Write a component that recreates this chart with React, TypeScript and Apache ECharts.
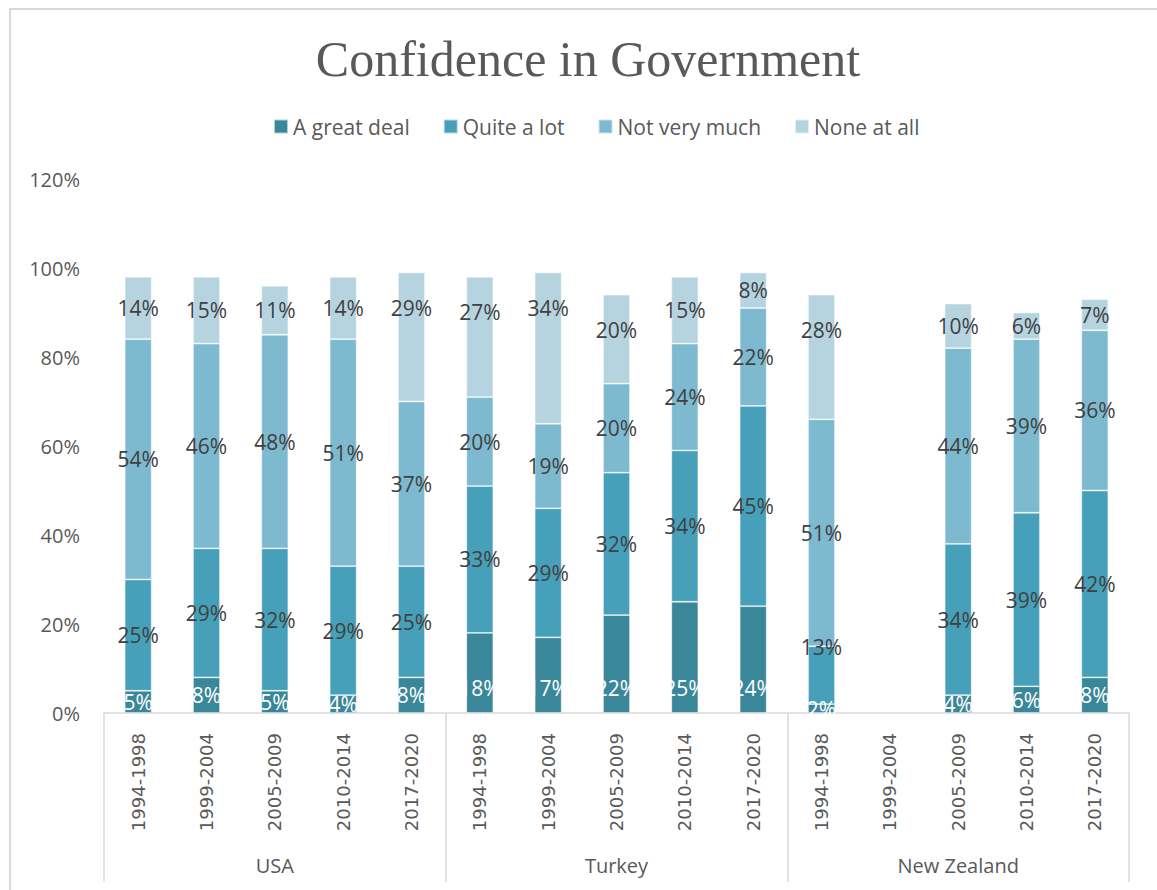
import React, { useEffect, useRef } from "react";
import * as echarts from "echarts";

const periods = ["1994-1998", "1999-2004", "2005-2009", "2010-2014", "2017-2020"];
const countries = ["USA", "Turkey", "New Zealand"];
const categories = countries.flatMap(() => periods);

const greatDeal = [5, 8, 5, 4, 8, 18, 17, 22, 25, 24, 2, null, 4, 6, 8];
const quiteALot = [25, 29, 32, 29, 25, 33, 29, 32, 34, 45, 13, null, 34, 39, 42];
const notVeryMuch = [54, 46, 48, 51, 37, 20, 19, 20, 24, 22, 51, null, 44, 39, 36];
const noneAtAll = [14, 15, 11, 14, 29, 27, 34, 20, 15, 8, 28, null, 10, 6, 7];

const seriesNames = ["A great deal", "Quite a lot", "Not very much", "None at all"];
const seriesData = [greatDeal, quiteALot, notVeryMuch, noneAtAll];
const colors = ["#3a8799", "#47a0b9", "#7db9cf", "#b5d4e0"];

const FONT = "'Open Sans', sans-serif";
const GRAY = "#595959";

// Label placement mimicking Excel's layout
function labelFor(seriesIdx: number, v: number | null) {
  if (v == null) return {};
  if (seriesIdx === 0) {
    return v >= 10 ? { position: "insideBottom", distance: 15 } : { position: "inside" };
  }
  if (seriesIdx === 1 && v < 15) {
    return { position: "top", distance: -11 };
  }
  if (seriesIdx === 3 && v > 15) {
    return { position: "insideTop", distance: 25 };
  }
  return { position: "inside" };
}

export default function App() {
  const ref = useRef<HTMLDivElement>(null);
  useEffect(() => {
    const chart = echarts.init(ref.current!, null, { renderer: "svg" });
    chart.setOption({
      animation: false,
      backgroundColor: "#ffffff",
      title: {
        text: "Confidence in Government",
        left: 583,
        textAlign: "center",
        top: 29,
        textStyle: { fontFamily: "'Liberation Serif', serif", fontSize: 50, fontWeight: "normal", color: GRAY },
      },
      legend: {
        data: seriesNames,
        top: 111,
        left: 268,
        itemWidth: 14,
        itemHeight: 14,
        itemGap: 33,
        icon: "rect",
        textStyle: { fontFamily: FONT, fontSize: 21, color: GRAY },
      },
      grid: { left: 104, right: 28, top: 179, bottom: 177, containLabel: false },
      xAxis: [
        {
          type: "category",
          data: categories,
          position: "bottom",
          axisLine: { show: true, lineStyle: { color: "#d9d9d9", width: 1.5 } },
          axisTick: { show: false },
          axisLabel: {
            rotate: 90,
            interval: 0,
            margin: 20,
            fontFamily: "'DejaVu Sans', sans-serif",
            fontSize: 18,
            color: GRAY,
          },
        },
        {
          type: "category",
          data: countries,
          position: "bottom",
          axisLine: { show: false },
          axisTick: { show: true, length: 169, lineStyle: { color: "#d9d9d9", width: 1.5 } },
          axisLabel: { margin: 142, fontFamily: FONT, fontSize: 20, color: GRAY },
        },
      ],
      yAxis: {
        type: "value",
        min: 0,
        max: 120,
        interval: 20,
        splitLine: { show: false },
        axisLine: { show: false },
        axisTick: { show: false },
        axisLabel: { formatter: "{value}%", margin: 24, fontFamily: FONT, fontSize: 20, color: GRAY },
      },
      graphic: [
        {
          type: "rect",
          shape: { x: 10, y: 9, width: 1400, height: 1000 },
          style: { fill: "none", stroke: "#d9d9d9", lineWidth: 2 },
          silent: true,
        },
      ],
      series: seriesNames.map((name, i) => ({
        name,
        type: "bar",
        stack: "total",
        xAxisIndex: 0,
        barWidth: 27,
        data: seriesData[i].map((v) => ({ value: v, label: labelFor(i, v) })),
        itemStyle: { color: colors[i], borderColor: "rgba(255,255,255,0.6)", borderWidth: 0.8 },
        label: {
          show: true,
          position: "inside",
          formatter: (p: any) => (p.value == null ? "" : `${p.value}%`),
          fontFamily: FONT,
          fontSize: 21,
          color: i === 0 ? "#ffffff" : "#404040",
        },
      })),
    });
    return () => chart.dispose();
  }, []);
  return <div ref={ref} style={{ position: "absolute", left: 0, top: 0, width: 1157, height: 890 }} />;
}
